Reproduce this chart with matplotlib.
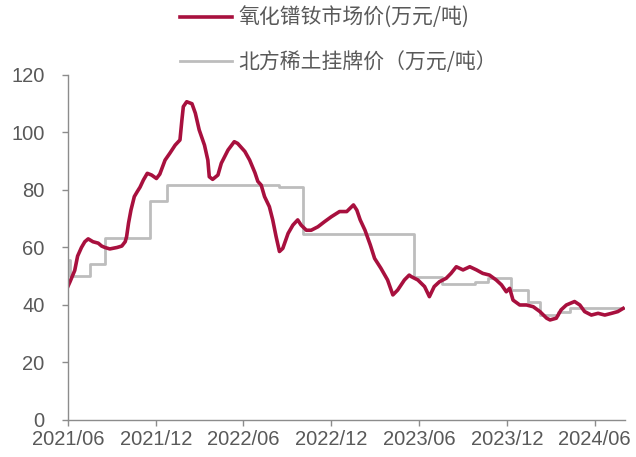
import matplotlib
matplotlib.use("Agg")
import matplotlib.pyplot as plt
import matplotlib.dates as mdates
import pandas as pd

# ---- data ----
red_dates = ["2021-06-01","2021-06-05","2021-06-15","2021-06-21","2021-06-29","2021-07-06","2021-07-13",
             "2021-07-23","2021-08-03","2021-08-10","2021-08-17","2021-08-27","2021-09-11","2021-09-21",
             "2021-09-28","2021-10-01","2021-10-05","2021-10-10","2021-10-17","2021-10-23","2021-10-29",
             "2021-11-05","2021-11-13","2021-11-22","2021-12-02","2021-12-09","2021-12-20","2021-12-30",
             "2022-01-10","2022-01-20","2022-01-24","2022-01-27","2022-02-03","2022-02-14","2022-02-21",
             "2022-03-01","2022-03-12","2022-03-19","2022-03-22","2022-03-29","2022-04-09","2022-04-16",
             "2022-04-30","2022-05-13","2022-05-20","2022-06-04","2022-06-14","2022-06-25","2022-07-01",
             "2022-07-08","2022-07-15","2022-07-25","2022-08-01","2022-08-08","2022-08-15","2022-08-22",
             "2022-09-02","2022-09-12","2022-09-22","2022-09-29","2022-10-10","2022-10-20","2022-11-03",
             "2022-11-17","2022-12-01","2022-12-18","2023-01-02","2023-01-16","2023-01-23","2023-01-30",
             "2023-02-09","2023-02-20","2023-03-01","2023-03-14","2023-03-28","2023-04-08","2023-04-18",
             "2023-05-02","2023-05-12","2023-05-16","2023-05-30","2023-06-13","2023-06-23","2023-07-03",
             "2023-07-14","2023-07-28","2023-08-07","2023-08-18","2023-09-01","2023-09-15","2023-09-29",
             "2023-10-12","2023-10-26","2023-11-09","2023-11-20","2023-11-30","2023-12-07","2023-12-14",
             "2023-12-28","2024-01-11","2024-01-25","2024-02-08","2024-02-22","2024-02-29","2024-03-13",
             "2024-03-23","2024-04-03","2024-04-20","2024-05-01","2024-05-11","2024-05-25","2024-06-08",
             "2024-06-22","2024-07-06","2024-07-19","2024-07-30"]
red_values = [46.5,48,52,57,60,62,63,
              62,61.5,60.5,60,59.5,60,60.5,
              62,63.8,68.5,73,77.7,79.4,81,
              83.5,85.8,85.2,84,85.5,90.4,92.8,
              95.6,97.4,104.3,109,110.7,110,106.7,
              100.9,95.6,90.4,84.6,83.7,85.2,89.3,
              93.9,96.8,96.2,93.4,90.4,86,83,
              81.7,77.7,74.2,69.6,63.8,58.6,59.7,
              64.9,67.8,69.6,67.8,66,66,67.2,
              69,70.7,72.5,72.5,74.8,73,69.6,
              66,60.9,56.2,52.8,48.7,43.5,45.2,
              48.7,50.4,49.9,48.7,46.4,42.9,46.4,
              48.1,49.3,51,53.3,52.2,53.3,52.2,
              51,50.4,48.7,47,44.6,45.8,41.7,
              40,40,39.4,37.7,35.4,34.8,35.4,
              38.3,40,41.2,40,37.7,36.5,37.1,
              36.5,37.1,37.7,38.8]

gray_dates = ["2021-06-01","2021-06-05","2021-07-16","2021-08-17","2021-11-18","2021-12-23",
              "2022-08-15","2022-10-03","2023-05-22","2023-07-20","2023-09-25","2023-10-22",
              "2023-12-10","2024-01-14","2024-02-08","2024-03-16","2024-04-10","2024-07-31"]
gray_values = [55.5,50,54.3,63.3,76.3,81.8,
               81.2,64.8,49.9,47.2,48.0,49.5,
               45.3,41.0,36.5,37.7,38.8,38.8]

red_label = "氧化镨钕市场价(万元/吨)"
gray_label = "北方稀土挂牌价（万元/吨）"
xtick_dates = ["2021-06-01","2021-12-01","2022-06-01","2022-12-01","2023-06-01","2023-12-01","2024-06-01"]
yticks = [0, 20, 40, 60, 80, 100, 120]

# ---- plot ----
plt.rcParams['font.family'] = ['Liberation Sans', 'Noto Sans CJK SC', 'DejaVu Sans']
fig = plt.figure(figsize=(6.36, 4.57), dpi=100)
ax = fig.add_axes([0.1069, 0.081, 0.8758, 0.7549])

rd = pd.to_datetime(red_dates)
gd = pd.to_datetime(gray_dates)
lg, = ax.plot(gd, gray_values, drawstyle='steps-post', color='#BDBDBD', lw=2.0, label=gray_label)
lr, = ax.plot(rd, red_values, color='#A8103E', lw=2.6, label=red_label, solid_joinstyle='round')

ax.set_ylim(0, 120)
ax.set_xlim(pd.Timestamp("2021-06-01"), pd.Timestamp("2024-08-03"))
ax.set_yticks(yticks)
ax.set_xticks(pd.to_datetime(xtick_dates))
ax.xaxis.set_major_formatter(mdates.DateFormatter("%Y/%m"))

for s in ['top', 'right']:
    ax.spines[s].set_visible(False)
for s in ['left', 'bottom']:
    ax.spines[s].set_color('#8C8C8C')
    ax.spines[s].set_linewidth(1.0)
ax.tick_params(axis='y', direction='out', length=4, width=1, color='#8C8C8C',
               labelcolor='#595959', labelsize=14.5, pad=13)
ax.tick_params(axis='x', direction='out', length=4, width=1, color='#8C8C8C',
               labelcolor='#595959', labelsize=14.5, pad=3)

leg = fig.legend(handles=[lr, lg], loc='upper left', bbox_to_anchor=(180/636, 1 - 7/457),
                 frameon=False, handlelength=2.5, handletextpad=0.3,
                 labelspacing=1.05, borderpad=0, borderaxespad=0,
                 prop={'family': ['Noto Sans CJK SC', 'DejaVu Sans'], 'size': 15})
for t in leg.get_texts():
    t.set_color('#595959')

fig.savefig("out.png", dpi=100)
